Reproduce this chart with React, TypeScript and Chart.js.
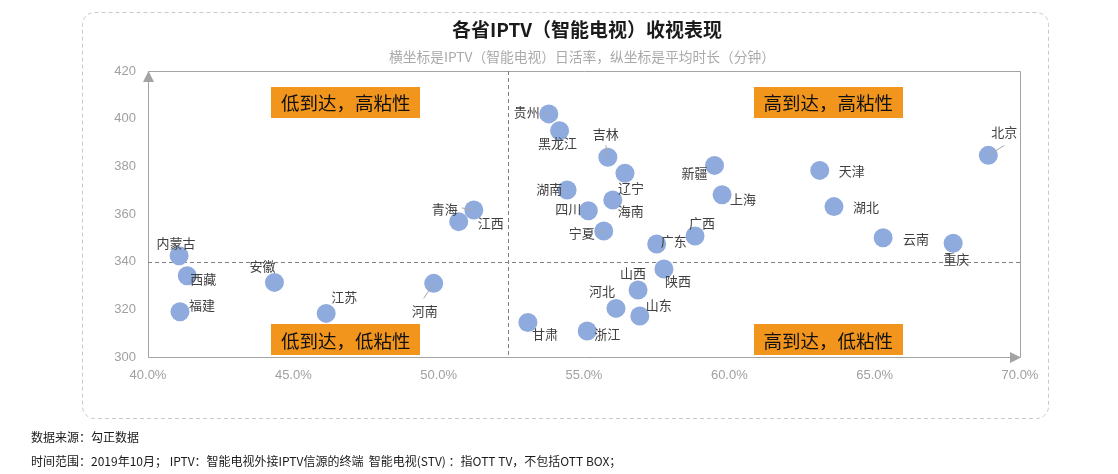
import React, { useEffect, useRef } from 'react';
import { Chart, registerables } from 'chart.js';

Chart.register(...registerables);

// ---------- data ----------
const provinces = [
  '北京', '天津', '湖北', '云南', '重庆', '新疆', '上海', '广西', '广东', '陕西',
  '山西', '河北', '山东', '甘肃', '浙江', '贵州', '黑龙江', '吉林', '辽宁', '湖南',
  '海南', '四川', '宁夏', '内蒙古', '西藏', '福建', '安徽', '江苏', '河南', '青海', '江西',
];
// IPTV (smart TV) daily active rate, %
const dailyActiveRate = [
  68.91, 63.11, 63.6, 65.29, 67.7, 59.49, 59.75, 58.82, 57.5, 57.75,
  56.86, 56.1, 56.92, 53.07, 55.11, 53.79, 54.16, 55.82, 56.41, 54.42,
  55.99, 55.15, 55.68, 41.07, 41.35, 41.1, 44.35, 46.13, 49.83, 51.21, 50.69,
];
// average viewing duration, minutes
const avgMinutes = [
  384.6, 378.3, 363.1, 350.0, 347.7, 380.4, 368.1, 350.8, 347.4, 336.9,
  328.1, 320.4, 317.2, 314.5, 310.9, 402.0, 394.9, 383.8, 377.1, 370.1,
  365.9, 361.4, 352.9, 342.5, 334.1, 319.0, 331.3, 318.3, 330.9, 361.7, 356.8,
];
const xTickValues = [40, 45, 50, 55, 60, 65, 70];
const yTickValues = [300, 320, 340, 360, 380, 400, 420];
const dividerX = 52.4;
const dividerY = 340;
const quadrantNames = ['低到达，高粘性', '高到达，高粘性', '低到达，低粘性', '高到达，低粘性'];

const titleText = '各省IPTV（智能电视）收视表现';
const subtitleText = '横坐标是IPTV（智能电视）日活率，纵坐标是平均时长（分钟）';
const footerLines = [
  '数据来源：勾正数据',
  '时间范围：2019年10月； IPTV：智能电视外接IPTV信源的终端  智能电视(STV) ：指OTT TV，不包括OTT BOX；',
];

// ---------- styling (label offsets in px, relative to point) ----------
const labelOffsets: Record<string, [number, number]> = {
  北京: [16, -23], 天津: [32, 1], 湖北: [32, 0], 云南: [33, 1], 重庆: [3, 16],
  新疆: [-20, 8], 上海: [21, 4], 广西: [7, -13], 广东: [17, -3], 陕西: [14, 12],
  山西: [-5, -17], 河北: [-14, -17], 山东: [19, -11], 甘肃: [17, 12], 浙江: [20, 3],
  贵州: [-22, -2], 黑龙江: [-2, 12], 吉林: [-2, -23], 辽宁: [6, 15], 湖南: [-18, -1],
  海南: [18, 11], 四川: [-20, -2], 宁夏: [-22, 2], 内蒙古: [-3, -13], 西藏: [16, 3],
  福建: [22, -7], 安徽: [-12, -16], 江苏: [18, -16], 河南: [-9, 28], 青海: [-29, -1],
  江西: [32, 1],
};
const leaderLines: Record<string, [number, number, number, number]> = {
  北京: [0, 0, 16, -10],
  吉林: [-2, -12, 0, 0],
  河南: [0, 0, -10, 15],
  青海: [-12, -2, 0, 0],
  贵州: [-5, -1, 0, 0],
  宁夏: [-6, 2, 0, 0],
};
const quadrantCenters: [number, number][] = [
  [46.8, 406.8], [63.4, 406.8], [46.8, 307.3], [63.4, 307.3],
];

const CJK = '"Noto Sans CJK SC", "Noto Sans", sans-serif';
const AXIS_COLOR = '#a3a3a3';

const decorPlugin = {
  id: 'decor',
  beforeDraw(chart: any) {
    const { ctx, chartArea: a, scales } = chart;
    const xs = scales.x;
    const ys = scales.y;
    ctx.save();
    ctx.fillStyle = '#ffffff';
    ctx.fillRect(0, 0, chart.width, chart.height);

    // outer dashed rounded frame
    ctx.strokeStyle = '#c9c9c9';
    ctx.lineWidth = 1;
    ctx.setLineDash([4, 3]);
    ctx.beginPath();
    (ctx as any).roundRect(82.5, 12.5, 966, 406, 12);
    ctx.stroke();
    ctx.setLineDash([]);

    // title & subtitle
    ctx.textAlign = 'center';
    ctx.textBaseline = 'middle';
    ctx.fillStyle = '#1a1a1a';
    ctx.font = `bold 19px ${CJK}`;
    ctx.fillText(titleText, 587, 30);
    ctx.fillStyle = '#aaaaaa';
    ctx.font = `13.75px ${CJK}`;
    ctx.fillText(subtitleText, 582, 57);

    // footer
    ctx.textAlign = 'left';
    ctx.fillStyle = '#1a1a1a';
    ctx.font = `12px ${CJK}`;
    ctx.fillText(footerLines[0], 31, 437);
    ctx.fillText(footerLines[1], 31, 461);

    // plot borders
    ctx.strokeStyle = AXIS_COLOR;
    ctx.lineWidth = 1;
    ctx.beginPath();
    ctx.moveTo(a.left + 0.5, a.bottom + 0.5);
    ctx.lineTo(a.left + 0.5, a.top + 0.5);
    ctx.lineTo(a.right + 0.5, a.top + 0.5);
    ctx.lineTo(a.right + 0.5, a.bottom + 0.5);
    ctx.lineTo(a.left + 0.5, a.bottom + 0.5);
    ctx.stroke();
    // arrows
    ctx.fillStyle = AXIS_COLOR;
    ctx.beginPath();
    ctx.moveTo(a.left + 0.5, a.top);
    ctx.lineTo(a.left - 5, a.top + 11);
    ctx.lineTo(a.left + 6, a.top + 11);
    ctx.closePath();
    ctx.fill();
    ctx.beginPath();
    ctx.moveTo(a.right + 1, a.bottom + 0.5);
    ctx.lineTo(a.right - 10, a.bottom - 5);
    ctx.lineTo(a.right - 10, a.bottom + 6);
    ctx.closePath();
    ctx.fill();

    // dividers
    ctx.strokeStyle = '#7f7f7f';
    ctx.setLineDash([4, 3]);
    const dx = Math.round(xs.getPixelForValue(dividerX)) + 0.5;
    const dy = Math.round(ys.getPixelForValue(dividerY)) + 0.5;
    ctx.beginPath();
    ctx.moveTo(dx, a.top);
    ctx.lineTo(dx, a.bottom);
    ctx.moveTo(a.left, dy);
    ctx.lineTo(a.right, dy);
    ctx.stroke();
    ctx.setLineDash([]);

    // quadrant boxes
    ctx.font = `18.5px ${CJK}`;
    ctx.textAlign = 'center';
    ctx.textBaseline = 'middle';
    quadrantNames.forEach((name, i) => {
      const cx = xs.getPixelForValue(quadrantCenters[i][0]);
      const cy = ys.getPixelForValue(quadrantCenters[i][1]);
      ctx.fillStyle = '#f2951d';
      ctx.fillRect(Math.round(cx - 74.5), Math.round(cy - 15.5), 149, 31);
      ctx.fillStyle = '#111111';
      ctx.fillText(name, cx, cy + 1);
    });
    ctx.restore();
  },
  afterDatasetsDraw(chart: any) {
    const { ctx } = chart;
    const meta = chart.getDatasetMeta(0);
    ctx.save();
    ctx.strokeStyle = '#a6a6a6';
    ctx.lineWidth = 1;
    ctx.font = `13px ${CJK}`;
    ctx.textAlign = 'center';
    ctx.textBaseline = 'middle';
    ctx.fillStyle = '#404040';
    meta.data.forEach((pt: any, i: number) => {
      const name = provinces[i];
      const ll = leaderLines[name];
      if (ll) {
        ctx.beginPath();
        ctx.moveTo(pt.x + ll[0], pt.y + ll[1]);
        ctx.lineTo(pt.x + ll[2], pt.y + ll[3]);
        ctx.stroke();
      }
      const off = labelOffsets[name] || [0, -16];
      ctx.fillText(name, pt.x + off[0], pt.y + off[1]);
    });
    ctx.restore();
  },
};

export default function App() {
  const ref = useRef<HTMLCanvasElement | null>(null);
  useEffect(() => {
    if (!ref.current) return;
    const chart = new Chart(ref.current, {
      type: 'scatter',
      data: {
        datasets: [
          {
            label: '各省',
            data: provinces.map((_, i) => ({ x: dailyActiveRate[i], y: avgMinutes[i] })),
            backgroundColor: '#8faadc',
            borderWidth: 0,
            pointRadius: 9.5,
            pointHoverRadius: 9.5,
          },
        ],
      },
      options: {
        responsive: false,
        animation: false,
        layout: { padding: { left: 100, right: 98, top: 71, bottom: 57 } },
        plugins: {
          legend: { display: false },
          tooltip: { enabled: false },
          title: { display: false },
        },
        scales: {
          x: {
            type: 'linear',
            min: 40,
            max: 70,
            afterFit: (s: any) => { s.height = 60; },
            afterBuildTicks: (s: any) => { s.ticks = xTickValues.map((v) => ({ value: v })); },
            grid: { display: false, drawTicks: false },
            border: { display: false },
            ticks: {
              padding: 11,
              color: '#a0a0a0',
              font: { size: 13, family: '"Liberation Sans", Arial, sans-serif' },
              callback: (v: any) => Number(v).toFixed(1) + '%',
            },
          },
          y: {
            type: 'linear',
            min: 300,
            max: 420,
            afterFit: (s: any) => { s.width = 48; },
            afterBuildTicks: (s: any) => { s.ticks = yTickValues.map((v) => ({ value: v })); },
            grid: { display: false, drawTicks: false },
            border: { display: false },
            ticks: {
              padding: 12,
              color: '#a0a0a0',
              font: { size: 13, family: '"Liberation Sans", Arial, sans-serif' },
            },
          },
        },
      },
      plugins: [decorPlugin],
    });
    return () => chart.destroy();
  }, []);
  return (
    <div style={{ position: 'absolute', left: 0, top: 0, width: 1118, height: 474, background: '#fff' }}>
      <canvas ref={ref} width={1118} height={474} />
    </div>
  );
}
